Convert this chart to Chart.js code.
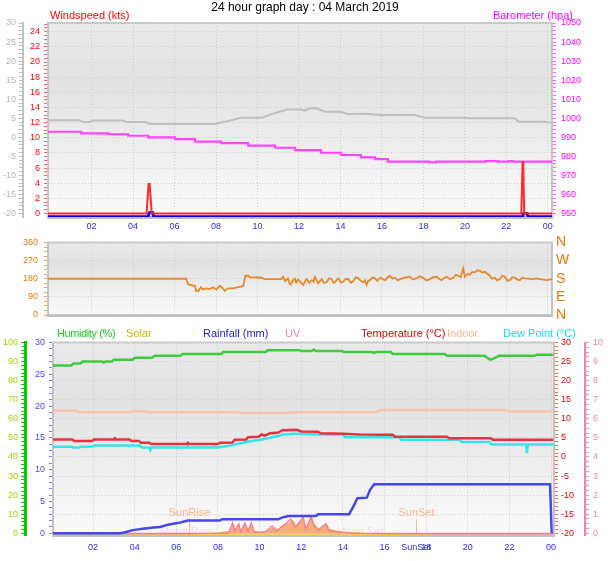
<!DOCTYPE html>
<html>
<head>
<meta charset="utf-8">
<script src="https://cdn.jsdelivr.net/npm/chart.js@4.4.1/dist/chart.umd.min.js"></script>
<style>
  body { margin: 0; background: #fff; width: 608px; height: 561px; position: relative; overflow: hidden;
         font-family: "Liberation Sans", Arial, sans-serif; }
  canvas { position: absolute; left: 0; }
  .lbl { position: absolute; z-index: 2; font-size: 11px; line-height: 12px; white-space: nowrap; }
</style>
</head>
<body>
<canvas id="topChart" width="608" height="236" style="top:0"></canvas>
<canvas id="dirChart" width="608" height="94" style="top:230px"></canvas>
<canvas id="lowChart" width="608" height="237" style="top:324px"></canvas>

<div class="lbl" style="left:5px;width:600px;text-align:center;top:1px;font-size:12px;color:#000">24 hour graph day : 04 March 2019</div>
<div class="lbl" style="left:50px;top:9px;color:#ff0000">Windspeed (kts)</div>
<div class="lbl" style="right:35px;top:9px;color:#ff00ff">Barometer (hpa)</div>
<div class="lbl" style="left:57px;top:327px;color:#22c822;letter-spacing:-0.4px">Humidity (%)</div>
<div class="lbl" style="left:126px;top:327px;color:#c8b800">Solar</div>
<div class="lbl" style="left:203px;top:327px;color:#1c1cdc">Rainfall (mm)</div>
<div class="lbl" style="left:285px;top:327px;color:#f084c0">UV</div>
<div class="lbl" style="left:361px;top:327px;color:#e00000">Temperature (°C)</div>
<div class="lbl" style="left:447px;top:327px;color:#f8b494">Indoor</div>
<div class="lbl" style="left:503px;top:327px;color:#10e0f0">Dew Point (°C)</div>

<script>
const FONT = '"Liberation Sans", Arial, sans-serif';
Chart.defaults.font.family = FONT;

// x axis: hours of the day
const hourTicks = [2, 4, 6, 8, 10, 12, 14, 16, 18, 20, 22, 24];
const hourLabels = ['02', '04', '06', '08', '10', '12', '14', '16', '18', '20', '22', '00'];

// top panel: [hour, value]
const windGust = [[-0.1, 0], [4.65, 0], [4.75, 3.9], [4.8, 3.9], [4.9, 0], [22.72, 0], [22.78, 6.8],
  [22.81, 6.8], [22.86, 0], [24.2, 0]];
const windAvg = [[-0.1, -0.42], [4.72, -0.42], [4.78, 0.1], [4.95, 0.1], [5.0, -0.42], [22.78, -0.42],
  [22.83, 0], [23.0, 0], [23.05, -0.42], [24.2, -0.42]];
const baroHpa = [[-0.1, 992.9], [1.5, 992.1], [2.8, 991.6], [3.77, 990.8], [4.73, 990.0], [6.03, 989.0],
  [6.99, 987.7], [8.25, 986.9], [9.55, 985.6], [10.85, 984.5], [11.81, 983.3], [13.06, 981.9],
  [14.03, 980.7], [14.99, 979.5], [15.66, 978.5], [16.29, 977.2], [18.3, 976.8], [18.6, 977.2],
  [21.0, 977.5], [21.6, 977.2], [22.1, 977.5], [22.3, 977.2], [24.2, 977.2]];
const greyTrace = [[-0.1, 4.5], [1.4, 4.5], [1.6, 4.0], [1.9, 4.0], [2.1, 4.4], [3.5, 4.4], [3.7, 4.0],
  [4.6, 4.0], [4.8, 3.5], [7.9, 3.5], [8.6, 4.3], [9.2, 5.1], [10.2, 5.1], [10.85, 6.4], [11.45, 7.3],
  [12.1, 7.3], [12.3, 7.0], [12.5, 7.6], [12.8, 7.7], [13.25, 6.7], [14.0, 6.7], [14.35, 6.1],
  [15.2, 6.2], [15.95, 5.85], [17.6, 5.85], [18.1, 5.1], [20.0, 5.1], [20.2, 5.0], [22.4, 5.0],
  [22.6, 4.1], [23.8, 4.1], [24.2, 3.8]];

// middle panel: wind direction (degrees)
const windDir = [[-0.1, 180], [6.56, 180], [6.66, 152], [6.98, 145], [7.04, 119], [7.14, 118], [7.27, 138],
  [7.38, 126], [7.52, 132], [7.70, 129], [7.86, 138], [8.01, 126], [8.18, 145], [8.34, 132], [8.42, 119],
  [8.58, 132], [8.82, 132], [9.07, 138], [9.31, 143], [9.42, 195], [9.55, 195], [9.63, 188], [10.19, 185],
  [10.35, 178], [11.15, 178], [11.23, 190], [11.34, 168], [11.40, 176], [11.47, 182], [11.53, 160],
  [11.60, 152], [11.71, 173], [11.80, 180], [11.87, 162], [11.95, 176], [12.04, 168], [12.12, 158],
  [12.21, 149], [12.30, 170], [12.37, 178], [12.50, 160], [12.62, 173], [12.70, 165], [12.77, 190],
  [12.85, 172], [12.93, 157], [13.02, 170], [13.10, 178], [13.20, 158], [13.34, 165], [13.45, 182],
  [13.58, 178], [13.66, 160], [13.74, 162], [13.82, 175], [13.90, 182], [14.02, 162], [14.14, 165],
  [14.26, 180], [14.38, 178], [14.50, 160], [14.62, 168], [14.74, 188], [14.86, 182], [14.98, 170],
  [15.10, 162], [15.18, 172], [15.26, 149], [15.34, 170], [15.42, 173], [15.54, 186], [15.66, 182],
  [15.78, 170], [15.91, 185], [16.03, 178], [16.15, 173], [16.27, 186], [16.39, 195], [16.51, 180],
  [16.63, 185], [16.75, 172], [16.87, 178], [17.10, 185], [17.35, 190], [17.50, 176], [17.67, 182],
  [17.83, 192], [17.99, 185], [18.15, 172], [18.31, 178], [18.47, 188], [18.64, 190], [18.76, 180],
  [18.88, 173], [19.00, 184], [19.12, 190], [19.28, 178], [19.44, 185], [19.56, 200], [19.68, 195],
  [19.80, 188], [19.92, 232], [20.00, 190], [20.12, 204], [20.24, 200], [20.36, 214], [20.48, 212],
  [20.60, 222], [20.72, 219], [20.84, 210], [20.96, 215], [21.08, 205], [21.20, 195], [21.32, 180],
  [21.44, 185], [21.56, 172], [21.69, 178], [21.81, 196], [21.93, 190], [22.05, 170], [22.17, 173],
  [22.29, 188], [22.41, 185], [22.53, 176], [22.65, 173], [22.77, 186], [22.89, 182], [23.29, 178],
  [23.45, 182], [23.61, 178], [23.78, 176], [23.94, 173], [24.2, 178]];
const compassLabels = ['N', 'E', 'S', 'W', 'N'];

// bottom panel
const humidity = [[0.08, 88], [0.95, 88], [1.05, 89], [1.4, 89], [1.5, 90], [2.45, 90], [2.5, 89.5],
  [2.6, 90], [2.9, 90], [3.0, 91], [3.9, 91], [4.0, 92], [4.85, 92], [4.95, 93], [6.2, 93], [6.3, 94],
  [8.15, 94], [8.25, 95], [10.3, 95], [10.4, 96], [11.9, 96], [12.0, 95.5], [12.5, 95.5], [12.6, 96.3],
  [12.7, 95.5], [13.95, 95.5], [14.05, 95], [15.4, 95], [15.5, 94.5], [15.6, 95], [16.3, 95], [16.4, 94],
  [18.9, 94], [19.0, 93], [20.8, 93], [21.0, 91.5], [21.1, 91], [21.3, 92], [21.5, 93], [23.2, 93],
  [23.3, 93.6], [24.1, 93.6]];
const temperature = [[0.08, 4.6], [1.0, 4.6], [1.1, 4.2], [1.95, 4.2], [2.05, 4.6], [3.0, 4.6], [3.05, 4.9],
  [3.1, 4.6], [3.75, 4.6], [3.85, 4.2], [4.2, 4.2], [4.3, 3.7], [4.7, 3.7], [4.8, 3.4], [6.5, 3.4],
  [6.55, 3.7], [6.6, 3.4], [8.0, 3.4], [8.1, 3.7], [8.7, 3.8], [8.8, 4.5], [9.35, 4.6], [9.45, 5.2],
  [9.95, 5.3], [10.1, 5.9], [10.25, 5.6], [10.5, 6.2], [10.9, 6.4], [11.1, 7.0], [11.8, 7.1], [12.0, 6.7],
  [12.8, 6.6], [12.95, 6.2], [14.0, 6.1], [14.8, 5.9], [16.4, 5.8], [16.5, 5.3], [19.0, 5.3], [19.1, 4.9],
  [21.1, 4.9], [21.2, 4.5], [24.1, 4.5]];
const dewPoint = [[0.08, 2.7], [1.0, 2.7], [1.05, 2.5], [1.35, 2.5], [1.4, 2.7], [1.95, 2.7], [2.05, 3.0],
  [4.25, 3.0], [4.35, 2.5], [4.7, 2.5], [4.75, 1.8], [4.8, 2.5], [6.5, 2.5], [6.55, 2.8], [6.6, 2.5],
  [8.0, 2.5], [8.7, 3.1], [9.4, 4.0], [10.1, 4.6], [10.4, 4.9], [11.1, 5.8], [11.6, 6.1], [12.0, 6.0],
  [12.9, 5.9], [14.0, 5.9], [14.1, 5.2], [16.7, 5.2], [16.8, 4.5], [19.6, 4.5], [19.7, 3.9], [21.05, 3.9],
  [21.15, 3.3], [22.8, 3.3], [22.84, 1.0], [22.88, 3.3], [24.1, 3.3]];
const indoor = [[0.08, 12.1], [1.2, 12.1], [1.3, 11.7], [3.75, 11.7], [3.85, 12.0], [4.5, 12.0], [4.6, 11.7],
  [9.0, 11.7], [9.1, 11.5], [11.4, 11.5], [11.5, 11.7], [15.6, 11.7], [15.8, 12.3], [21.8, 12.3],
  [22.0, 11.9], [24.1, 11.9]];
const rainfall = [[0.08, 0], [3.3, 0], [3.6, 0.2], [3.9, 0.5], [4.4, 0.7], [4.9, 0.9], [5.2, 1.0], [5.55, 1.3],
  [5.85, 1.5], [6.2, 1.7], [6.55, 2.0], [8.1, 2.0], [8.2, 2.2], [10.9, 2.2], [11.1, 2.5], [11.4, 2.7],
  [12.7, 2.7], [12.8, 3.0], [14.3, 3.0], [14.5, 4.2], [14.7, 5.5], [15.15, 5.6], [15.3, 6.8], [15.5, 7.7],
  [23.95, 7.7], [24.03, 0]];
const solar = [[0.08, 0], [6.6, 0], [6.8, 5], [7.5, 8], [8.0, 10], [8.3, 16], [8.6, 20], [8.75, 55], [8.85, 25],
  [9.0, 50], [9.1, 20], [9.25, 55], [9.4, 22], [9.6, 58], [9.7, 20], [10.0, 15], [10.4, 20], [10.7, 40],
  [10.9, 25], [11.1, 45], [11.4, 60], [11.6, 75], [11.8, 40], [12.1, 90], [12.25, 30], [12.45, 95],
  [12.6, 60], [12.85, 30], [13.0, 45], [13.2, 60], [13.35, 30], [13.5, 25], [13.7, 20], [14.0, 15],
  [14.5, 12], [15.0, 8], [15.5, 6], [16.0, 4], [16.5, 2], [17.0, 0], [24.1, 0]];
const uvIndex = [[0.08, 0], [8.5, 0], [8.7, 0.55], [8.8, 0.1], [9.0, 0.5], [9.1, 0.05], [9.3, 0.55], [9.45, 0.1],
  [9.6, 0.55], [9.75, 0.05], [10.1, 0.05], [10.3, 0.1], [10.6, 0.4], [10.8, 0.1], [11.0, 0.3], [11.3, 0.55],
  [11.5, 0.75], [11.7, 0.3], [12.1, 0.85], [12.2, 0.2], [12.5, 0.85], [12.6, 0.4], [12.8, 0.15],
  [13.2, 0.5], [13.3, 0.15], [13.6, 0.1], [14.0, 0.05], [14.5, 0], [24.1, 0]];
const sunEvents = [[6.61, 'SunRise'], [17.51, 'SunSet']];
const moonEvents = [[6.49, 'Moon Rise'], [14.82, 'Moon Set']];

const xy = a => a.map(([x, y]) => ({ x, y }));
const near = (v, step) => Math.abs(v / step - Math.round(v / step)) < 1e-6;
function tickRange(lo, hi, step) {
  const out = [];
  for (let i = Math.ceil(lo / step - 1e-9); i * step <= hi + 1e-9; i++) out.push({ value: +(i * step).toFixed(6) });
  return out;
}

function yAxis(o) {
  return {
    type: 'linear', position: o.pos, weight: o.weight || 0, min: o.min, max: o.max, bounds: 'data',
    afterFit: s => { s.width = o.width; s.paddingTop = 0; s.paddingBottom = 0; },
    afterBuildTicks: s => { s.ticks = o.ticks ? o.ticks.map(v => ({ value: v })) : tickRange(o.min, o.max, o.minor); },
    ticks: {
      color: o.color, autoSkip: false, padding: o.pad ?? 3,
      font: { family: FONT, size: o.size || 9 },
      callback: (v, i) => o.labels ? o.labels[i] : (near(v, o.major) ? String(v) : '')
    },
    grid: {
      drawOnChartArea: !!o.grid, drawTicks: o.noTicks ? false : true,
      color: c => (c.tick && near(c.tick.value, o.major)) ? '#cecece' : 'rgba(0,0,0,0)',
      tickColor: o.tick || o.color, tickLength: 4, lineWidth: 1
    },
    border: { display: true, color: o.line || '#c4c4c4', width: o.lineW || 2, dash: [1, 2] }
  };
}

function xAxis(o) {
  return {
    type: 'linear', min: o.min, max: o.max, bounds: 'data',
    afterFit: s => { s.height = o.height; s.paddingLeft = 0; s.paddingRight = 0; },
    afterBuildTicks: s => { s.ticks = hourTicks.map(v => ({ value: v })); },
    ticks: {
      display: o.labels, color: '#2a2af0', font: { family: FONT, size: 9 }, padding: o.pad || 0,
      maxRotation: 0, autoSkip: false, callback: (v, i) => hourLabels[i]
    },
    grid: { color: '#cbcbcb', drawTicks: false, lineWidth: 1 },
    border: { color: '#c0c0c0', width: 3, dash: [1, 2] }
  };
}

const panelBg = {
  id: 'panelBg',
  beforeDraw(chart) {
    const { ctx, chartArea: a } = chart;
    const g = ctx.createLinearGradient(0, a.top, 0, a.bottom);
    g.addColorStop(0, '#eaeaea');
    g.addColorStop(0.3, '#e2e2e2');
    g.addColorStop(1, '#fafafa');
    ctx.save();
    ctx.fillStyle = g;
    ctx.fillRect(a.left, a.top, a.right - a.left, a.bottom - a.top);
    ctx.strokeStyle = '#c8c8c8';
    ctx.lineWidth = 2;
    ctx.strokeRect(a.left, a.top, a.right - a.left, a.bottom - a.top);
    ctx.restore();
  }
};

const sunMoon = {
  id: 'sunMoon',
  beforeDatasetsDraw(chart) {
    const { ctx, scales: { x }, chartArea: a } = chart;
    ctx.save();
    ctx.font = '11px ' + FONT;
    ctx.textAlign = 'center';
    ctx.textBaseline = 'middle';
    ctx.fillStyle = 'rgba(246,184,148,0.45)';
    moonEvents.forEach(([t, txt]) => ctx.fillText(txt, x.getPixelForValue(t), a.bottom - 3));
    ctx.fillStyle = '#f6b894';
    ctx.strokeStyle = '#f6b894';
    ctx.lineWidth = 1;
    sunEvents.forEach(([t, txt]) => {
      const px = Math.round(x.getPixelForValue(t)) + 0.5;
      ctx.fillText(txt, px, a.bottom - 22);
      ctx.beginPath(); ctx.moveTo(px, a.bottom - 16); ctx.lineTo(px, a.bottom); ctx.stroke();
    });
    ctx.font = '9px ' + FONT;
    ctx.fillStyle = '#2a2af0';
    ctx.fillText(sunEvents[1][1], x.getPixelForValue(sunEvents[1][0]), a.bottom + 13);
    ctx.restore();
  }
};

function line(data, axis, color, width, extra) {
  return Object.assign({ data: xy(data), yAxisID: axis, borderColor: color, borderWidth: width,
    pointRadius: 0, fill: false, tension: 0 }, extra || {});
}

function baseOptions(padTop, scales) {
  return {
    responsive: false, animation: false, devicePixelRatio: 1, events: [],
    layout: { padding: { top: padTop, bottom: 0, left: 0, right: 0 } },
    plugins: { legend: { display: false }, tooltip: { enabled: false }, title: { display: false } },
    scales
  };
}

// top panel: windspeed + barometer
new Chart(document.getElementById('topChart'), {
  type: 'line',
  data: { datasets: [
    line(windGust, 'yWind', '#ff2a2a', 2),
    line(windAvg, 'yWind', '#0000f0', 3),
    line(baroHpa, 'yBaro', '#ff44ff', 2.2, { stepped: true }),
    line(greyTrace, 'yGrey', '#c0c0c0', 2)
  ] },
  options: baseOptions(23, {
    x: xAxis({ min: -0.1, max: 24.2, height: 19, labels: true, pad: 4 }),
    yGrey: yAxis({ pos: 'left', weight: 1, min: -20.92, max: 30, width: 23, minor: 1, major: 5,
      color: '#b4b4b4', tick: '#bdbdbd', line: '#c0c0c0' }),
    yWind: yAxis({ pos: 'left', weight: 0, min: -0.46, max: 25.15, width: 25, minor: 0.5, major: 2,
      color: '#ff0000', tick: '#ff6060', grid: true, pad: 4 }),
    yBaro: yAxis({ pos: 'right', min: 948.16, max: 1050, width: 56, minor: 2, major: 10,
      color: '#ff00ff', tick: '#ff60ff', pad: 5 })
  }),
  plugins: [panelBg]
});

// middle panel: wind direction
new Chart(document.getElementById('dirChart'), {
  type: 'line',
  data: { datasets: [ line(windDir, 'yDir', '#e88a2c', 1.8) ] },
  options: baseOptions(12.5, {
    x: xAxis({ min: -0.1, max: 24.2, height: 9, labels: false }),
    yDir: yAxis({ pos: 'left', min: 0, max: 360, width: 48, minor: 22.5, major: 90,
      color: '#e07800', tick: '#eea060', grid: true, pad: 6 }),
    yCompass: yAxis({ pos: 'right', min: 0, max: 360, width: 56, ticks: [0, 90, 180, 270, 360],
      labels: compassLabels, major: 90, color: '#e87800', size: 14, pad: 4, noTicks: true })
  }),
  plugins: [panelBg]
});

// bottom panel: humidity, solar, rainfall, UV, temperatures
new Chart(document.getElementById('lowChart'), {
  type: 'line',
  data: { datasets: [
    line(humidity, 'yHum', '#3ccc3c', 2.5),
    line(temperature, 'yTemp', '#e83040', 2.5),
    line(dewPoint, 'yTemp', '#34e6ec', 2.5),
    line(indoor, 'yTemp', '#f8c4ac', 2.5),
    line(rainfall, 'yRain', '#4646ee', 2.5),
    line(uvIndex, 'yUV', '#f07aaa', 1.2, { fill: 'origin', backgroundColor: 'rgba(242,122,172,0.35)' }),
    line(solar, 'ySolar', '#f2b040', 1, { fill: 'origin', backgroundColor: '#f9ca62' })
  ] },
  options: baseOptions(18.5, {
    x: xAxis({ min: 0.077, max: 24.14, height: 26, labels: true, pad: 7 }),
    yHum: yAxis({ pos: 'left', weight: 1, min: -0.9, max: 100, width: 25, minor: 2, major: 10,
      color: '#a8d000', tick: '#00cc00', line: '#00cc00', lineW: 3 }),
    yRain: yAxis({ pos: 'left', weight: 0, min: -0.27, max: 30, width: 28, minor: 1, major: 5,
      color: '#4848ff', tick: '#7878ff', pad: 4 }),
    yTemp: yAxis({ pos: 'right', weight: 0, min: -20.45, max: 30, width: 31, minor: 1, major: 5,
      color: '#e00000', tick: '#f06060', grid: true, pad: 3 }),
    yUV: yAxis({ pos: 'right', weight: 1, min: -0.09, max: 10, width: 23, minor: 0.25, major: 1,
      color: '#f080b0', tick: '#f090c0', line: '#f080b0', pad: 4 }),
    ySolar: { type: 'linear', display: false, min: 0, max: 1000 }
  }),
  plugins: [panelBg, sunMoon]
});
</script>
</body>
</html>
